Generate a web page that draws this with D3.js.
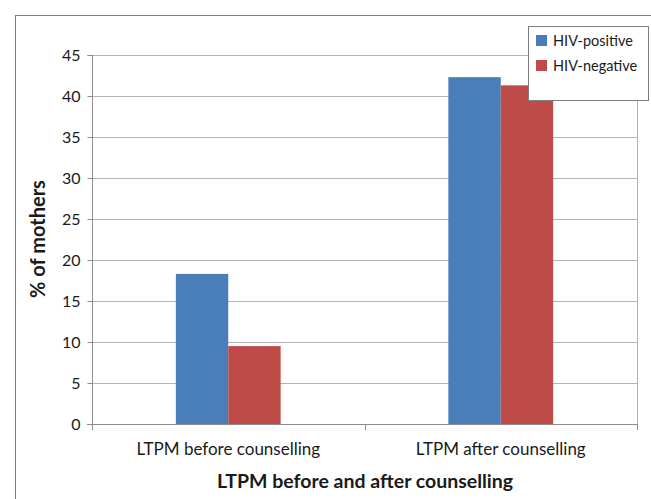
<!DOCTYPE html>
<html><head><meta charset="utf-8">
<script src="https://cdn.jsdelivr.net/npm/d3@7"></script>
<style>body{margin:0;background:#fff;}svg{display:block;font-family:Lato,"Open Sans",sans-serif;}</style>
</head><body>
<svg id="c" width="651" height="499"></svg>
<script>
const categories = ["LTPM before counselling", "LTPM after counselling"];
const seriesNames = ["HIV-positive", "HIV-negative"];
const hivPositive = [18.3, 42.3];
const hivNegative = [9.5, 41.3];
const yTicks = [0, 5, 10, 15, 20, 25, 30, 35, 40, 45];
const colors = ["#4a7ebb", "#be4b48"];

const svg = d3.select("#c");
// outer frame
svg.append("rect").attr("x", 15.5).attr("y", 15.5).attr("width", 700).attr("height", 600)
  .attr("fill", "none").attr("stroke", "#7f7f7f");

const L = 92, R = 637, T = 55, B = 424;
const x0 = d3.scaleBand().domain(categories).range([L, R]);
const x1 = d3.scaleBand().domain(seriesNames).range([0, x0.bandwidth()]).paddingInner(0).paddingOuter(1.6);
const y = d3.scaleLinear().domain([0, 45]).range([B, T]);

// gridlines
svg.append("g").selectAll("line").data(yTicks.filter(d => d > 0)).join("line")
  .attr("x1", L).attr("x2", R).attr("y1", d => Math.round(y(d)) + 0.5).attr("y2", d => Math.round(y(d)) + 0.5)
  .attr("stroke", "#b3b3b3").attr("stroke-width", 1);
// right border
svg.append("line").attr("x1", R + 0.5).attr("x2", R + 0.5).attr("y1", T).attr("y2", B + 6)
  .attr("stroke", "#b3b3b3");

// bars
const data = categories.map((c, i) => ({ c, vals: [hivPositive[i], hivNegative[i]] }));
const g = svg.append("g").selectAll("g").data(data).join("g")
  .attr("transform", d => `translate(${x0(d.c)},0)`);
g.selectAll("rect").data(d => d.vals.map((v, j) => ({ s: seriesNames[j], v, j }))).join("rect")
  .attr("x", d => x1(d.s)).attr("width", x1.bandwidth())
  .attr("y", d => y(d.v)).attr("height", d => B - y(d.v))
  .attr("fill", d => colors[d.j]);

// y axis
const yAxis = d3.axisLeft(y).tickValues(yTicks).tickSize(5).tickPadding(7);
const ya = svg.append("g").attr("transform", `translate(${L + 0.5},0)`).call(yAxis);
ya.select(".domain").attr("stroke", "#8c8c8c").attr("d", `M-5,${T + 0.5}H0V${B + 0.5}H-5`);
ya.selectAll(".tick line").attr("stroke", "#8c8c8c");
ya.selectAll(".tick text").attr("font-size", 16).attr("fill", "#1a1a1a").attr("font-family", "Lato, sans-serif");

// x axis
svg.append("line").attr("x1", L - 5).attr("x2", R).attr("y1", B + 0.5).attr("y2", B + 0.5).attr("stroke", "#8c8c8c");
const sep = [L, L + x0.bandwidth(), R];
svg.append("g").selectAll("line").data(sep).join("line")
  .attr("x1", d => Math.round(d) + 0.5).attr("x2", d => Math.round(d) + 0.5)
  .attr("y1", B).attr("y2", B + 6).attr("stroke", "#8c8c8c");
svg.append("g").selectAll("text").data(categories).join("text")
  .attr("x", d => x0(d) + x0.bandwidth() / 2).attr("y", 455)
  .attr("text-anchor", "middle").attr("font-size", 17).attr("fill", "#1a1a1a").text(d => d);

// titles
svg.append("text").attr("x", 365).attr("y", 488).attr("text-anchor", "middle")
  .attr("font-size", 19.5).attr("font-weight", "bold").attr("fill", "#1a1a1a")
  .text("LTPM before and after counselling");
svg.append("text").attr("transform", `translate(45,239) rotate(-90)`).attr("text-anchor", "middle")
  .attr("font-size", 20).attr("font-weight", "bold").attr("fill", "#1a1a1a").text("% of mothers");

// legend
const lg = svg.append("g");
lg.append("rect").attr("x", 528.5).attr("y", 26.5).attr("width", 120).attr("height", 74)
  .attr("fill", "#fff").attr("stroke", "#7f7f7f");
seriesNames.forEach((s, i) => {
  lg.append("rect").attr("x", 536).attr("y", 35 + i * 25).attr("width", 11).attr("height", 11).attr("fill", colors[i]);
  lg.append("text").attr("x", 553).attr("y", 45.5 + i * 25).attr("font-size", 14.5).attr("fill", "#1a1a1a").text(s);
});
</script>
</body></html>
